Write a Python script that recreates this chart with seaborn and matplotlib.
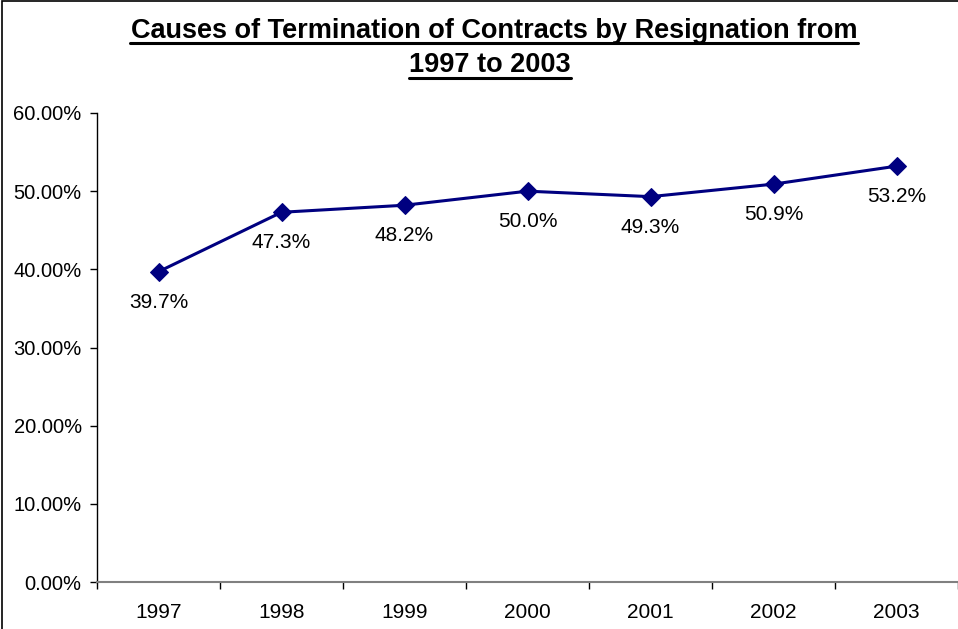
import matplotlib
matplotlib.use("Agg")
import matplotlib.pyplot as plt
import seaborn as sns
import pandas as pd
from matplotlib.ticker import FuncFormatter, FixedLocator
from matplotlib.patches import Rectangle

years = ["1997", "1998", "1999", "2000", "2001", "2002", "2003"]
values = [39.7, 47.3, 48.2, 50.0, 49.3, 50.9, 53.2]
y_ticks = [0, 10, 20, 30, 40, 50, 60]

sns.set_style("white")
plt.rcParams["font.family"] = ["Liberation Sans", "DejaVu Sans"]
plt.rcParams["text.color"] = "black"
plt.rcParams["xtick.color"] = "black"
plt.rcParams["ytick.color"] = "black"

df = pd.DataFrame({"year": years, "value": values})
df["pos"] = range(len(years))

fig = plt.figure(figsize=(9.58, 6.29), dpi=100)
ax = fig.add_axes([97/958, 1 - 582/629, (958 - 97)/958, (582 - 113)/629])

sns.lineplot(data=df, x="pos", y="value", ax=ax, color="#000080", lw=2.2,
             marker="D", markersize=9, markeredgecolor="#000080")

for i, v in enumerate(values):
    ax.annotate(f"{v:.1f}%", (i, v), xytext=(0, -22), textcoords="offset points",
                ha="center", va="center", fontsize=15, color="black")

ax.set_xlim(-0.5, len(years) - 0.5)
ax.set_ylim(0, 60)
ax.set_yticks(y_ticks)
ax.yaxis.set_major_formatter(FuncFormatter(lambda v, p: f"{v:.2f}%"))
ax.set_xticks(range(len(years)))
ax.set_xticklabels(years)
ax.xaxis.set_minor_locator(FixedLocator([i - 0.5 for i in range(len(years) + 1)]))
ax.tick_params(axis="x", which="major", length=0, pad=15, labelsize=15, labelcolor="black")
ax.tick_params(axis="x", which="minor", length=5, width=1, color="black", direction="out", bottom=True)
ax.tick_params(axis="y", length=5, width=1, color="black", direction="out", left=True,
               labelsize=14.5, pad=6, labelcolor="black")
ax.set_xlabel("")
ax.set_ylabel("")
for s in ["top", "right"]:
    ax.spines[s].set_visible(False)
ax.spines["left"].set_color("black")
ax.spines["left"].set_linewidth(1)
ax.spines["bottom"].set_color("#808080")
ax.spines["bottom"].set_linewidth(1.5)

fig.text(494/958, 1 - 31/629, "Causes of Termination of Contracts by Resignation from",
         ha="center", va="center", fontsize=19.5, fontweight="bold", color="black")
fig.text(490/958, 1 - 65/629, "1997 to 2003",
         ha="center", va="center", fontsize=19.5, fontweight="bold", color="black")
# underlines
fig.add_artist(plt.Line2D([130/958, 858/958], [1 - 43/629, 1 - 43/629], color="black", lw=2.2))
fig.add_artist(plt.Line2D([409/958, 571/958], [1 - 78/629, 1 - 78/629], color="black", lw=2.2))

fig.add_artist(Rectangle((2/958, -0.01), 1.0, 1 - 1/629 + 0.01, transform=fig.transFigure,
                         fill=False, edgecolor="black", lw=1.2))

fig.savefig("out.png", dpi=100)
